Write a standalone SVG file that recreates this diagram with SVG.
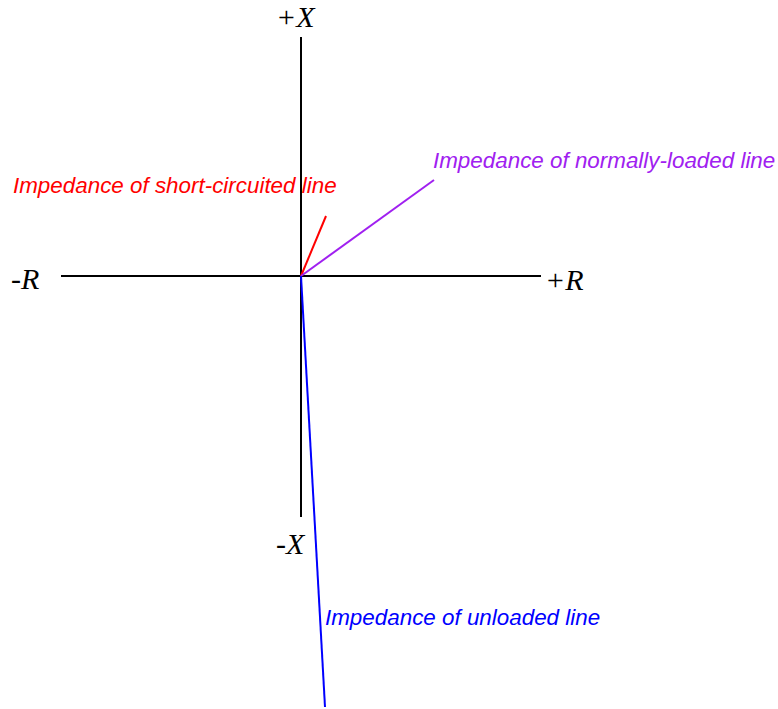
<svg xmlns="http://www.w3.org/2000/svg" width="778" height="709" viewBox="0 0 778 709">
<style>
.ax{stroke:#000;stroke-width:2;fill:none}
.ser{font-family:"Liberation Serif",serif;font-style:italic;font-size:30px;fill:#000}
.lab{font-family:"Liberation Sans",Arial,sans-serif;font-style:italic;font-size:22.4px}
</style>
<rect width="778" height="709" fill="#fff"/>
<g id="connectors">
<line class="ax" x1="301" y1="37" x2="301" y2="517"/>
<line class="ax" x1="61" y1="276" x2="541" y2="276"/>
<line x1="301" y1="276" x2="326" y2="216" stroke="#ff0000" stroke-width="2"/>
<line x1="301" y1="276" x2="434" y2="180" stroke="#a020f0" stroke-width="2"/>
<line x1="301" y1="276" x2="325" y2="707" stroke="#0000ff" stroke-width="2"/>
</g>
<g id="axis-labels">
<text class="ser" x="276" y="27">+X</text>
<text class="ser" x="11" y="289">-R</text>
<text class="ser" x="545" y="290">+R</text>
<text class="ser" x="276" y="554">-X</text>
</g>
<g id="label-short"><text class="lab" x="13" y="193" fill="#ff0000">Impedance of short-circuited line</text></g>
<g id="label-normal"><text class="lab" x="433" y="168" fill="#a020f0">Impedance of normally-loaded line</text></g>
<g id="label-unloaded"><text class="lab" x="325" y="625" fill="#0000ff">Impedance of unloaded line</text></g>
</svg>
